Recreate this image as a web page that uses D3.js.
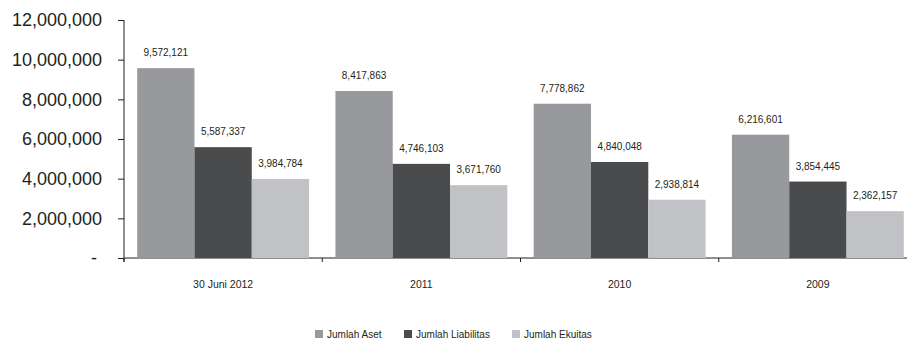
<!DOCTYPE html>
<html>
<head>
<meta charset="utf-8">
<script src="https://cdn.jsdelivr.net/npm/d3@7"></script>
<style>
    body { margin: 0; background: #fff; }
    svg { display: block; font-family: Arial, "Liberation Sans", sans-serif; }
</style>
</head>
<body>
<div id="chart-area"></div>
<script>
// Data
var categories = ["30 Juni 2012", "2011", "2010", "2009"];
var seriesNames = ["Jumlah Aset", "Jumlah Liabilitas", "Jumlah Ekuitas"];
var aset = [9572121, 8417863, 7778862, 6216601];
var liabilitas = [5587337, 4746103, 4840048, 3854445];
var ekuitas = [3984784, 3671760, 2938814, 2362157];
var yTicks = [0, 2000000, 4000000, 6000000, 8000000, 10000000, 12000000];

var seriesValues = [aset, liabilitas, ekuitas];
var colours = ["#98999c", "#4a4b4d", "#c1c2c5"];

var width = 907, height = 340;
var margin = { left: 124, top: 20 };
var plotW = 793, plotH = 238;

var svg = d3.select("#chart-area")
    .append("svg")
    .attr("width", width)
    .attr("height", height);

var g = svg.append("g")
    .attr("transform", "translate(" + margin.left + ", " + margin.top + ")");

// Scales
var x0 = d3.scaleBand()
    .domain(categories)
    .range([0, plotW])
    .padding(0);

var x1 = d3.scaleBand()
    .domain(seriesNames)
    .range([0, x0.bandwidth()])
    .paddingInner(0)
    .paddingOuter(0.23);

var y = d3.scaleLinear()
    .domain([0, 12000000])
    .range([plotH, 0]);

var colour = d3.scaleOrdinal().domain(seriesNames).range(colours);

var fmt = d3.format(",");

// Y axis
var yAxis = g.append("g")
    .attr("class", "y axis")
    .call(d3.axisLeft(y)
        .tickValues(yTicks)
        .tickSize(6)
        .tickPadding(16)
        .tickFormat(function (d) { return d === 0 ? "-" : fmt(d); }));

yAxis.select(".domain").remove();
yAxis.selectAll(".tick line").attr("stroke", "#231f20");
yAxis.selectAll(".tick text")
    .attr("font-size", "18px")
    .attr("fill", "#231f20")
    .attr("font-family", "Arial, 'Liberation Sans', sans-serif")
    .attr("dx", function (d) { return d === 0 ? -5 : 0; });

g.append("line")
    .attr("x1", 0).attr("x2", 0)
    .attr("y1", 0).attr("y2", plotH + 4)
    .attr("stroke", "#231f20");

// X axis
var xAxis = g.append("g")
    .attr("class", "x axis")
    .attr("transform", "translate(0," + plotH + ")");

xAxis.append("line")
    .attr("x1", 0).attr("x2", plotW)
    .attr("stroke", "#231f20");

xAxis.selectAll(".xtick")
    .data(categories)
    .enter()
    .append("line")
    .attr("class", "xtick")
    .attr("x1", function (d) { return x0(d); })
    .attr("x2", function (d) { return x0(d); })
    .attr("y1", 0).attr("y2", 4)
    .attr("stroke", "#231f20");

xAxis.selectAll(".xlabel")
    .data(categories)
    .enter()
    .append("text")
    .attr("class", "xlabel")
    .attr("x", function (d) { return x0(d) + x0.bandwidth() / 2; })
    .attr("y", 30)
    .attr("text-anchor", "middle")
    .attr("font-size", "10.5px")
    .attr("fill", "#231f20")
    .text(function (d) { return d; });

// Bars
var rows = [];
categories.forEach(function (c, i) {
    seriesNames.forEach(function (s, j) {
        rows.push({ category: c, series: s, value: seriesValues[j][i] });
    });
});

var groups = g.selectAll(".bars")
    .data(rows)
    .enter()
    .append("g")
    .attr("class", "bars");

groups.append("rect")
    .attr("x", function (d) { return x0(d.category) + x1(d.series); })
    .attr("y", function (d) { return y(d.value); })
    .attr("width", x1.bandwidth())
    .attr("height", function (d) { return plotH - y(d.value); })
    .attr("fill", function (d) { return colour(d.series); });

groups.append("text")
    .attr("x", function (d) { return x0(d.category) + x1(d.series) + x1.bandwidth() / 2; })
    .attr("y", function (d) { return y(d.value) - 12; })
    .attr("text-anchor", "middle")
    .attr("font-size", "10px")
    .attr("fill", "#231f20")
    .text(function (d) { return fmt(d.value); });

// Legend
var legendX = [315, 404, 512];
var legend = svg.selectAll(".legend")
    .data(seriesNames)
    .enter()
    .append("g")
    .attr("class", "legend")
    .attr("transform", function (d, i) { return "translate(" + legendX[i] + ", 330)"; });

legend.append("rect")
    .attr("width", 8).attr("height", 8)
    .attr("fill", function (d) { return colour(d); });

legend.append("text")
    .attr("x", 12)
    .attr("y", 8)
    .attr("font-size", "10px")
    .attr("fill", "#231f20")
    .text(function (d) { return d; });
</script>
</body>
</html>
